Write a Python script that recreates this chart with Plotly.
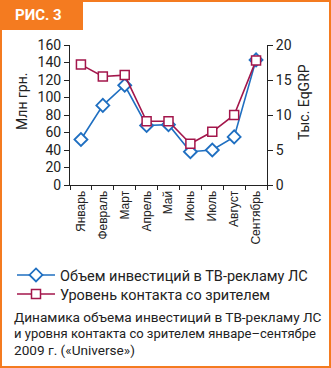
import plotly.graph_objects as go

months = ["Январь", "Февраль", "Март", "Апрель", "Май", "Июнь", "Июль", "Август", "Сентябрь"]
invest = [52, 91, 114, 68, 69, 38, 40, 55, 143]
contact = [17.2, 15.5, 15.7, 9.1, 9.1, 5.9, 7.6, 10.0, 17.8]
left_ticks = [0, 20, 40, 60, 80, 100, 120, 140, 160]
right_ticks = [0, 5, 10, 15, 20]
caption = ["Динамика объема инвестиций в ТВ-рекламу ЛС",
           "и уровня контакта со зрителем январе–сентябре",
           "2009 г. («Universe»)"]

W, H = 331, 368
L, R, T, B = 70, 267, 45, 185
ORANGE = "#f47b20"
BLUE = "#1f6fc1"
RED = "#a3164b"
TXT = "#222"

def xp(px):
    return (px - L) / (R - L)

def yp(py):
    return (B - py) / (B - T)

fig = go.Figure()
fig.add_trace(go.Scatter(
    x=list(range(len(months))), y=invest, name="Объем инвестиций в ТВ-рекламу ЛС",
    mode="lines+markers", line=dict(color=BLUE, width=1.6), legend="legend",
    marker=dict(symbol="diamond", size=10, color="white", line=dict(color=BLUE, width=1.8)),
))
fig.add_trace(go.Scatter(
    x=list(range(len(months))), y=contact, name="Уровень контакта со зрителем", yaxis="y2",
    mode="lines+markers", line=dict(color=RED, width=1.6), legend="legend2",
    marker=dict(symbol="square", size=9, color="white", line=dict(color=RED, width=1.5)),
))

shapes = [
    dict(type="rect", xref="paper", yref="paper", x0=xp(2), x1=xp(329), y0=yp(366), y1=yp(30),
         fillcolor="white", line_width=0, layer="below"),
    dict(type="rect", xref="paper", yref="paper", x0=xp(83), x1=xp(329), y0=yp(30), y1=yp(2),
         fillcolor="white", line_width=0, layer="below"),
]

annotations = [
    dict(text="<b>РИС. 3</b>", xref="paper", yref="paper", x=xp(13), y=yp(15), xanchor="left",
         yanchor="middle", showarrow=False, font=dict(family="Roboto", size=15, color="white")),
    dict(text="Млн грн.", xref="paper", yref="paper", x=xp(22), y=yp(102), textangle=-90,
         xanchor="center", yanchor="middle",
         showarrow=False, font=dict(family="Roboto", size=14, color=TXT)),
    dict(text="Тыс. EqGRP", xref="paper", yref="paper", x=xp(304), y=yp(102), textangle=-90,
         xanchor="center", yanchor="middle",
         showarrow=False, font=dict(family="Roboto", size=14, color=TXT)),
]
for line, cy, fs in zip(caption, [317, 333.5, 350], [13.6, 13.0, 13.6]):
    annotations.append(dict(text=line, xref="paper", yref="paper", x=xp(12), y=yp(cy),
                            xanchor="left", yanchor="middle", showarrow=False,
                            font=dict(family="Roboto", size=fs, color=TXT)))

legend_common = dict(xref="container", yref="container", x=12 / W, xanchor="left",
                     yanchor="middle", bgcolor="rgba(0,0,0,0)",
                     font=dict(family="Roboto", size=14.5, color=TXT), itemwidth=38)

fig.update_layout(
    width=W, height=H, margin=dict(l=L, r=W - R, t=T, b=H - B, autoexpand=False),
    paper_bgcolor=ORANGE, plot_bgcolor="rgba(0,0,0,0)",
    shapes=shapes, annotations=annotations,
    font=dict(family="Roboto", color=TXT),
    xaxis=dict(range=[-0.5, 8.5], tickmode="array", tickvals=list(range(9)), ticktext=months,
               tickangle=-90, showline=True, linecolor=TXT, linewidth=1, showgrid=False,
               zeroline=False, ticks="", tickfont=dict(family="Liberation Sans", size=12, color=TXT),
               minor=dict(tickmode="linear", tick0=-0.5, dtick=1, ticks="outside",
                          ticklen=4, tickcolor=TXT, showgrid=False)),
    yaxis=dict(range=[0, 160], tickvals=left_ticks, showline=True, linecolor=TXT, linewidth=1,
               showgrid=False, zeroline=False, ticks="outside", ticklen=5, tickcolor=TXT,
               tickfont=dict(family="Roboto", size=14, color=TXT)),
    yaxis2=dict(range=[0, 20], tickvals=right_ticks, overlaying="y", side="right", showline=True,
                linecolor=TXT, linewidth=1, showgrid=False, zeroline=False, ticks="outside",
                ticklen=5, tickcolor=TXT, tickfont=dict(family="Roboto", size=14, color=TXT)),
    legend=dict(y=1 - 275 / H, **legend_common),
    legend2=dict(y=1 - 294 / H, **legend_common),
    showlegend=True,
)

fig.write_html("out.html")
